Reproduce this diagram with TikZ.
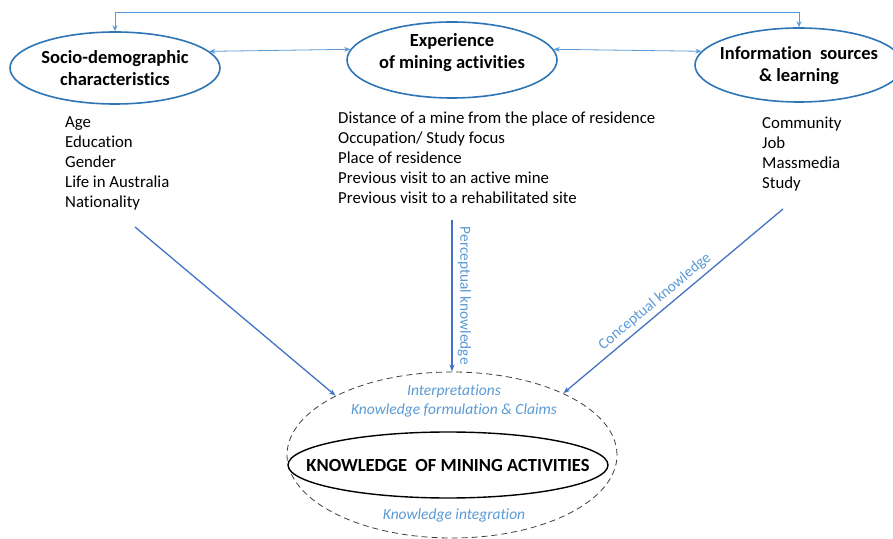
\documentclass[tikz,border=0pt]{standalone}
\usepackage{fontspec}
\setmainfont[Ligatures=NoCommon]{Carlito}
\usetikzlibrary{shapes.geometric,arrows.meta}
\definecolor{ringblue}{HTML}{2E75B6}
\definecolor{linkblue}{HTML}{5B9BD5}
\definecolor{flowblue}{HTML}{4472C4}

\begin{document}
\begin{tikzpicture}[scale=1.000000,x=1pt,y=1pt,
  factor/.style={ellipse, draw=ringblue, line width=1.6pt, inner sep=0pt},
  heading/.style={align=center, inner sep=0pt, font=\fontsize{18.5}{22}\selectfont\bfseries},
  items/.style={anchor=north west, align=left, inner sep=0pt, font=\fontsize{16.8}{20}\selectfont},
  link/.style={color=linkblue, line width=0.8pt, {Stealth[length=6pt,width=5pt]}-{Stealth[length=6pt,width=5pt]}},
  flow/.style={color=flowblue, line width=1.3pt, -{Stealth[length=7pt,width=5pt]}},
  note/.style={text=linkblue, inner sep=2pt, font=\fontsize{15.5}{19}\selectfont\itshape},
  flowlabel/.style={text=linkblue, font=\fontsize{15.3}{18}\selectfont}]
\path[use as bounding box, fill=white] (0.000000, 0.000000) rectangle (893.000000, 538.000000);
% Drawing the three factor ellipses
\node[factor, minimum width=210, minimum height=72,
  label={[heading]center:Socio-demographic\\characteristics}] (soc) at (115.000000, 470.000000) {};
\node[factor, minimum width=210, minimum height=76,
  label={[heading, yshift=7]center:Experience\\of mining activities}] (exp) at (452.000000, 478.000000) {};
\node[factor, minimum width=208, minimum height=74,
  label={[heading, yshift=-1]center:Information\ \ sources\\\& learning}] (info) at (799.000000, 473.000000) {};
% Links between the factors
\draw[link] (soc.north) -- ++(0,19) -| (info.north);
\draw[link] (soc.10) -- (exp.174);
\draw[link] (exp.6) -- (info.172);
% Done with factors; drawing item lists
\node[items] (soclist) at (65.000000, 421.000000) {Age\\Education\\Gender\\Life in Australia\\Nationality};
\node[items] (explist) at (338.000000, 426.000000) {Distance of a mine from the place of residence\\Occupation/ Study focus\\Place of residence\\Previous visit to an active mine\\Previous visit to a rehabilitated site};
\node[items] (infolist) at (762.000000, 421.000000) {Community\\Job\\Massmedia\\Study};
% Drawing the knowledge ellipses
\node[ellipse, draw=black!75, dash pattern=on 6pt off 4pt, line width=0.8pt, minimum width=330, minimum height=166] (kn) at (452.000000, 83.000000) {};
\node[ellipse, draw=black, line width=1.4pt, minimum width=320, minimum height=66,
  label={[inner sep=0pt, font=\fontsize{18.5}{20}\selectfont\bfseries]center:KNOWLEDGE\ \ OF MINING ACTIVITIES}] (core) at (448.000000, 73.000000) {};
\node[note, align=center] (claims) at (454.000000, 137.000000) {Interpretations\\Knowledge formulation \& Claims};
\node[note] (integ) at (454.000000, 23.000000) {Knowledge integration};
% Done with knowledge; drawing flows into it
\coordinate (socend) at (135.000000, 311.000000);
\coordinate (expend) at (452.000000, 318.000000);
\coordinate (infoend) at (783.000000, 329.000000);
\draw[flow] (socend) -- (kn.153);
\draw[flow] (expend) -- node[flowlabel, midway, rotate=-90, anchor=south, inner sep=5pt] {Perceptual knowledge} (kn.north);
\draw[flow] (infoend) -- node[flowlabel, pos=0.55, sloped, above, inner sep=4pt] {Conceptual knowledge} (kn.29);
\end{tikzpicture}
\end{document}
